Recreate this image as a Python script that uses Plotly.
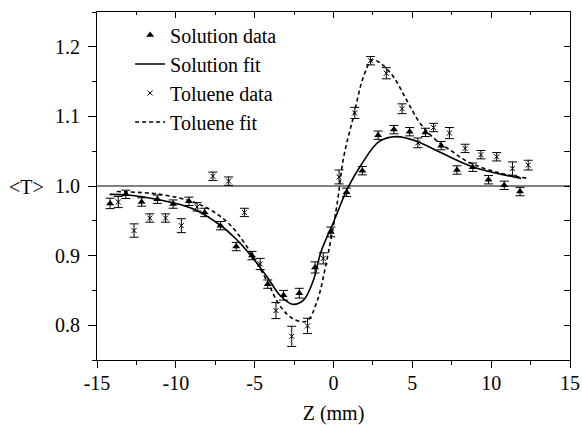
import plotly.graph_objects as go

# ---- data ----
sol_z = [-14.17, -13.17, -12.17, -11.17, -10.17, -9.17, -8.17, -7.17, -6.17, -5.17,
         -4.17, -3.17, -2.17, -1.17, -0.17, 0.83, 1.83, 2.83, 3.83, 4.83,
         5.83, 6.83, 7.83, 8.83, 9.83, 10.83, 11.83]
sol_t = [0.975, 0.988, 0.977, 0.981, 0.974, 0.978, 0.962, 0.943, 0.913, 0.900,
         0.859, 0.843, 0.846, 0.883, 0.934, 0.991, 1.022, 1.073, 1.081, 1.078,
         1.077, 1.058, 1.023, 1.027, 1.009, 1.001, 0.992]
sol_err = [0.0075, 0.006, 0.006, 0.006, 0.006, 0.006, 0.006, 0.006, 0.006, 0.006,
           0.006, 0.007, 0.007, 0.008, 0.007, 0.006, 0.006, 0.006, 0.006, 0.006,
           0.006, 0.006, 0.006, 0.006, 0.006, 0.006, 0.006]

tol_z = [-13.65, -12.65, -11.65, -10.65, -9.65, -8.65, -7.65, -6.65, -5.65, -4.65,
         -3.65, -2.65, -1.65, -0.65, 0.35, 1.35, 2.35, 3.35, 4.35, 5.35,
         6.35, 7.35, 8.35, 9.35, 10.35, 11.35, 12.35]
tol_t = [0.977, 0.936, 0.954, 0.954, 0.943, 0.970, 1.014, 1.007, 0.962, 0.888,
         0.821, 0.784, 0.799, 0.896, 1.013, 1.105, 1.180, 1.162, 1.111, 1.062,
         1.084, 1.076, 1.054, 1.045, 1.042, 1.025, 1.030]
tol_err = [0.008, 0.0096, 0.006, 0.006, 0.010, 0.006, 0.006, 0.006, 0.006, 0.008,
           0.0115, 0.0145, 0.011, 0.008, 0.010, 0.008, 0.006, 0.008, 0.007, 0.007,
           0.006, 0.008, 0.006, 0.006, 0.006, 0.0096, 0.007]

solfit_z = [-14.2, -13.0, -11.0, -9.0, -7.2, -6.1, -5.1, -4.2, -3.4, -2.6, -1.9, -1.3,
            -0.8, 0.0, 0.9, 1.8, 2.9, 4.0, 5.3, 6.8, 8.9, 11.9]
solfit_t = [0.988, 0.987, 0.980, 0.968, 0.944, 0.922, 0.896, 0.869, 0.843, 0.830, 0.836,
            0.863, 0.905, 0.948, 0.997, 1.032, 1.064, 1.071, 1.064, 1.048, 1.027, 1.011]

tolfit_z = [-13.75, -11.0, -8.9, -7.6, -6.55, -5.5, -4.25, -3.4, -2.55, -1.7, -1.05,
            -0.42, 0.2, 0.65, 1.27, 1.9, 2.45, 3.0, 3.8, 4.65, 5.5, 6.5, 7.5, 8.5,
            10.5, 12.3]
tolfit_t = [0.992, 0.988, 0.977, 0.963, 0.944, 0.913, 0.865, 0.828, 0.809, 0.806, 0.834,
            0.894, 0.970, 1.042, 1.100, 1.157, 1.181, 1.176, 1.157, 1.123, 1.090, 1.066,
            1.050, 1.035, 1.019, 1.011]

x_tickvals = [-15, -10, -5, 0, 5, 10, 15]
x_ticktext = ["-15", "-10", "-5", "0", "5", "10", "15"]
y_tickvals = [0.8, 0.9, 1.0, 1.1, 1.2]
y_ticktext = ["0.8", "0.9", "1.0", "1.1", "1.2"]

FONT = "Liberation Serif"
TXT = dict(family=FONT, size=20, color="black")

fig = go.Figure()

fig.add_trace(go.Scatter(
    x=sol_z, y=sol_t, mode="markers", name="Solution data",
    marker=dict(symbol="triangle-up", size=7, color="black"),
    error_y=dict(type="data", array=sol_err, width=4.5, thickness=1, color="black")))
fig.add_trace(go.Scatter(
    x=solfit_z, y=solfit_t, mode="lines", name="Solution fit",
    line=dict(color="black", width=1.6, shape="spline", smoothing=1.0)))
fig.add_trace(go.Scatter(
    x=tol_z, y=tol_t, mode="markers", name="Toluene data",
    marker=dict(symbol="x-thin", size=5, color="black", line=dict(width=1, color="black")),
    error_y=dict(type="data", array=tol_err, width=4.5, thickness=1, color="black")))
fig.add_trace(go.Scatter(
    x=tolfit_z, y=tolfit_t, mode="lines", name="Toluene fit",
    line=dict(color="black", width=1.6, dash="4px,3px", shape="spline", smoothing=1.0)))

# dummy trace to activate top/right tick axes
fig.add_trace(go.Scatter(x=[None], y=[None], xaxis="x2", yaxis="y2",
                         showlegend=False, hoverinfo="skip"))

fig.add_hline(y=1.0, line=dict(color="black", width=1.2))

fig.update_layout(
    width=582, height=425,
    margin=dict(l=97, r=12, t=12, b=65, autoexpand=False),
    paper_bgcolor="white", plot_bgcolor="white",
    font=TXT,
    showlegend=True,
    legend=dict(x=0.07, y=0.99, xanchor="left", yanchor="top",
                bgcolor="rgba(0,0,0,0)", borderwidth=0,
                font=TXT, tracegroupgap=0, itemwidth=30),
    xaxis=dict(range=[-15, 15], tickvals=x_tickvals, ticktext=x_ticktext,
               tickfont=TXT,
               showline=True, linecolor="black", linewidth=1, mirror=True,
               ticks="outside", ticklen=7, tickwidth=1, tickcolor="black",
               minor=dict(dtick=2.5, tick0=0, ticks="outside", ticklen=4, tickcolor="black"),
               showgrid=False, zeroline=False, automargin=False, ticklabelstandoff=-2,
               title=dict(text="Z (mm)", font=TXT, standoff=12)),
    yaxis=dict(range=[0.75, 1.25], tickvals=y_tickvals, ticktext=y_ticktext,
               tickfont=TXT,
               showline=True, linecolor="black", linewidth=1, mirror=True,
               ticks="outside", ticklen=8, tickwidth=1, tickcolor="black",
               minor=dict(dtick=0.05, tick0=0, ticks="outside", ticklen=4, tickcolor="black"),
               showgrid=False, zeroline=False, ticklabelstandoff=4, automargin=False),
    xaxis2=dict(range=[-15, 15], overlaying="x", side="top", showticklabels=False,
                ticks="inside", dtick=5, tick0=0, ticklen=6, tickcolor="black",
                minor=dict(dtick=2.5, tick0=0, ticks="inside", ticklen=3, tickcolor="black"),
                showgrid=False, zeroline=False, showline=False, automargin=False),
    yaxis2=dict(range=[0.75, 1.25], overlaying="y", side="right", showticklabels=False,
                ticks="inside", dtick=0.05, tick0=0, ticklen=6, tickcolor="black",
                showgrid=False, zeroline=False, showline=False, automargin=False),
    annotations=[dict(text="&lt;T&gt;", xref="paper", yref="paper",
                      x=-0.148, y=0.497, xanchor="center", yanchor="middle",
                      showarrow=False, font=TXT)],
)

fig.write_html("out.html")
